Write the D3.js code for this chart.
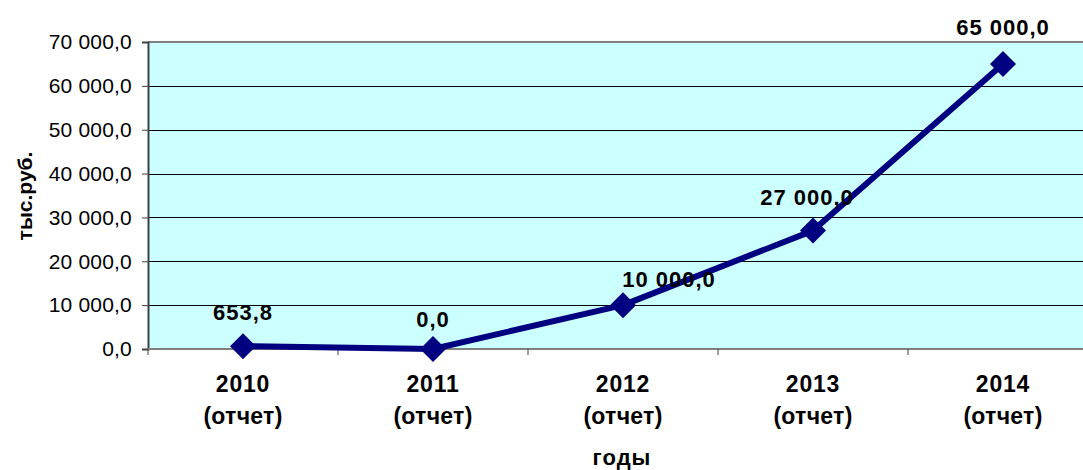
<html lang="ru">
<head>
	<meta charset="utf-8">
	<script src="https://cdn.jsdelivr.net/npm/d3@7"></script>
	<style>
		body { margin: 0; background: #fff; }
		text { font-family: "Liberation Sans", Arial, sans-serif; }
	</style>
</head>
<body>
	<script type="text/javascript">
		var w = 1083;
		var h = 470;

		// data
		var years = ["2010", "2011", "2012", "2013", "2014"];
		var subLabels = ["(отчет)", "(отчет)", "(отчет)", "(отчет)", "(отчет)"];
		var values = [653.8, 0, 10000, 27000, 65000];
		var yTicks = [0, 10000, 20000, 30000, 40000, 50000, 60000, 70000];

		var plotLeft = 148, plotTop = 42, plotBottom = 349;
		var band = 190; // category width, plot runs past right edge

		var ru = d3.formatLocale({decimal: ",", thousands: "\u00a0", grouping: [3], currency: ["", ""]});
		var fmt = ru.format(",.1f");

		var svg = d3.select("body")
				.append("svg")
				.attr("width", w)
				.attr("height", h);

		var x = d3.scaleBand()
				.domain(years)
				.range([plotLeft, plotLeft + band * years.length]);

		var y = d3.scaleLinear()
				.domain([0, 70000])
				.range([plotBottom, plotTop]);

		var plotRight = x.range()[1];

		// plot background
		svg.append("rect")
			.attr("x", plotLeft).attr("y", plotTop)
			.attr("width", plotRight - plotLeft)
			.attr("height", plotBottom - plotTop)
			.attr("fill", "#ccffff");

		// gridlines
		svg.selectAll("line.grid")
			.data(yTicks.filter(function(d){ return d > 0 && d < 70000; }))
			.enter()
			.append("line")
			.attr("class", "grid")
			.attr("x1", plotLeft).attr("x2", plotRight)
			.attr("y1", function(d){ return Math.round(y(d)) + 0.5; })
			.attr("y2", function(d){ return Math.round(y(d)) + 0.5; })
			.attr("stroke", "#000")
			.attr("stroke-width", 1);

		// top border
		svg.append("line")
			.attr("x1", plotLeft).attr("x2", plotRight)
			.attr("y1", plotTop).attr("y2", plotTop)
			.attr("stroke", "#808080").attr("stroke-width", 2);

		// y axis
		var yAxis = d3.axisLeft(y)
				.tickValues(yTicks)
				.tickFormat(fmt)
				.tickSize(6)
				.tickPadding(10);
		var gy = svg.append("g")
				.attr("transform", "translate(" + plotLeft + ",0)")
				.call(yAxis);
		gy.select(".domain").attr("stroke", "#404040").attr("stroke-width", 2);
		gy.selectAll(".tick line").attr("stroke", "#404040");
		gy.selectAll(".tick text")
			.attr("font-size", 21)
			.attr("fill", "#000")
			.style("letter-spacing", "0.2px")
			.style("font-family", "'Liberation Sans', Arial, sans-serif");

		// x axis line and ticks between categories
		svg.append("line")
			.attr("x1", plotLeft).attr("x2", plotRight)
			.attr("y1", plotBottom).attr("y2", plotBottom)
			.attr("stroke", "#808080").attr("stroke-width", 2);
		svg.selectAll("line.xtick")
			.data(years)
			.enter()
			.append("line")
			.attr("class", "xtick")
			.attr("x1", function(d){ return x(d); })
			.attr("x2", function(d){ return x(d); })
			.attr("y1", plotBottom).attr("y2", plotBottom + 6)
			.attr("stroke", "#404040");

		// category labels
		var cat = svg.selectAll("g.cat")
				.data(years)
				.enter()
				.append("g")
				.attr("class", "cat")
				.attr("transform", function(d){ return "translate(" + (x(d) + x.bandwidth() / 2) + ",0)"; });
		cat.append("text")
			.attr("y", 392)
			.attr("text-anchor", "middle")
			.attr("font-size", 23)
			.attr("font-weight", "bold")
			.style("letter-spacing", "0.8px")
			.text(function(d){ return d; });
		cat.append("text")
			.attr("y", 424)
			.attr("text-anchor", "middle")
			.attr("font-size", 23)
			.attr("font-weight", "bold")
			.style("letter-spacing", "0.3px")
			.text(function(d, i){ return subLabels[i]; });

		// line
		var line = d3.line()
				.x(function(d, i){ return x(years[i]) + x.bandwidth() / 2; })
				.y(function(d){ return y(d); });
		svg.append("path")
			.datum(values)
			.attr("d", line)
			.attr("fill", "none")
			.attr("stroke", "#000080")
			.attr("stroke-width", 6)
			.attr("stroke-linejoin", "round");

		// diamond markers
		var r = 13;
		svg.selectAll("path.mark")
			.data(values)
			.enter()
			.append("path")
			.attr("class", "mark")
			.attr("transform", function(d, i){ return "translate(" + (x(years[i]) + x.bandwidth() / 2) + "," + y(d) + ")"; })
			.attr("d", "M0," + (-r) + "L" + r + ",0L0," + r + "L" + (-r) + ",0Z")
			.attr("fill", "#000080");

		// data labels (moved by hand in the original)
		var labelDx = [0, 0, 46, -6, 0];
		var labelDy = [-26, -22, -18, -26, -29];
		svg.selectAll("text.val")
			.data(values)
			.enter()
			.append("text")
			.attr("class", "val")
			.attr("x", function(d, i){ return x(years[i]) + x.bandwidth() / 2 + labelDx[i]; })
			.attr("y", function(d, i){ return y(d) + labelDy[i]; })
			.attr("text-anchor", "middle")
			.attr("font-size", 22)
			.attr("font-weight", "bold")
			.style("letter-spacing", "1px")
			.text(function(d){ return fmt(d); });

		// axis titles
		svg.append("text")
			.attr("transform", "translate(32,196) rotate(-90)")
			.attr("text-anchor", "middle")
			.attr("font-size", 21)
			.attr("font-weight", "bold")
			.text("тыс.руб.");

		svg.append("text")
			.attr("x", 622)
			.attr("y", 465)
			.attr("text-anchor", "middle")
			.attr("font-size", 22)
			.attr("font-weight", "bold")
			.style("letter-spacing", "1px")
			.text("годы");
	</script>
</body>
</html>
